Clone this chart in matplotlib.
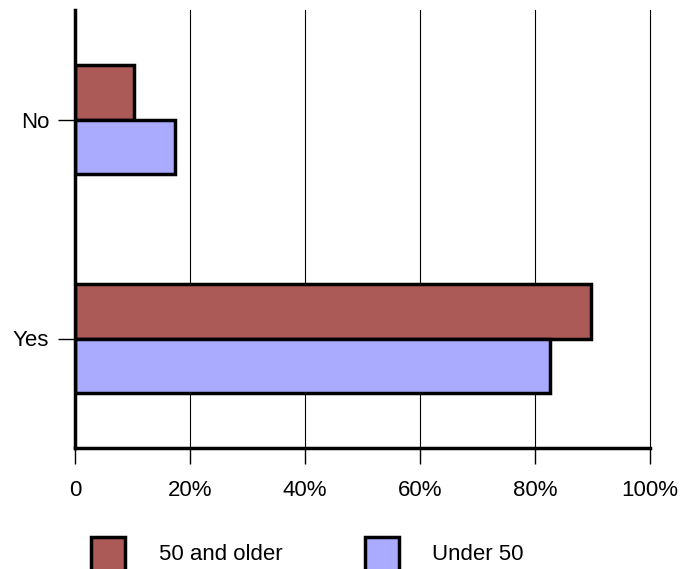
import numpy as np
import matplotlib.pyplot as plt
from matplotlib.patches import Rectangle

plt.rcParams['font.family'] = ['Liberation Sans', 'DejaVu Sans']

categories = ['Yes', 'No']
older = [89.7, 10.3]
under = [82.6, 17.4]
series_names = ['50 and older', 'Under 50']
colors = ['#AB5A58', '#AAAAFF']

fig = plt.figure(figsize=(6.81, 5.69), dpi=100)
ax = fig.add_axes([75 / 681, 121 / 569, 575 / 681, 438 / 569])

y = np.arange(len(categories))
h = 0.248
ax.barh(y + h / 2, older, height=h, color=colors[0], edgecolor='black', linewidth=2.5, zorder=3)
ax.barh(y - h / 2, under, height=h, color=colors[1], edgecolor='black', linewidth=2.5, zorder=3)

ax.set_xlim(0, 100)
ax.set_ylim(-0.5, 1.5)
ax.set_xticks([0, 20, 40, 60, 80, 100])
ax.set_xticklabels(['0', '20%', '40%', '60%', '80%', '100%'], fontsize=16)
ax.set_yticks(y)
ax.set_yticklabels(categories, fontsize=16)
ax.tick_params(axis='x', length=11.5, width=1, pad=11.5)
ax.tick_params(axis='y', length=12.2, width=1, pad=6.5)
ax.xaxis.grid(True, color='black', linewidth=0.8, zorder=0)
for gl in ax.get_xgridlines():
    gl.set_clip_on(False)
for s in ['top', 'right']:
    ax.spines[s].set_visible(False)
for s in ['left', 'bottom']:
    ax.spines[s].set_linewidth(2.5)
ax.spines['left'].set_zorder(4)

# legend drawn in figure pixels
for i, (name, c) in enumerate(zip(series_names, colors)):
    x0 = [91, 365][i]
    fig.add_artist(Rectangle((x0 / 681, -10 / 569), 34 / 681, 42 / 569,
                             transform=fig.transFigure, facecolor=c,
                             edgecolor='black', linewidth=2.5))
    fig.text([159, 432][i] / 681, 15 / 569, name, fontsize=16, va='center')

fig.savefig('out.png', dpi=100)
